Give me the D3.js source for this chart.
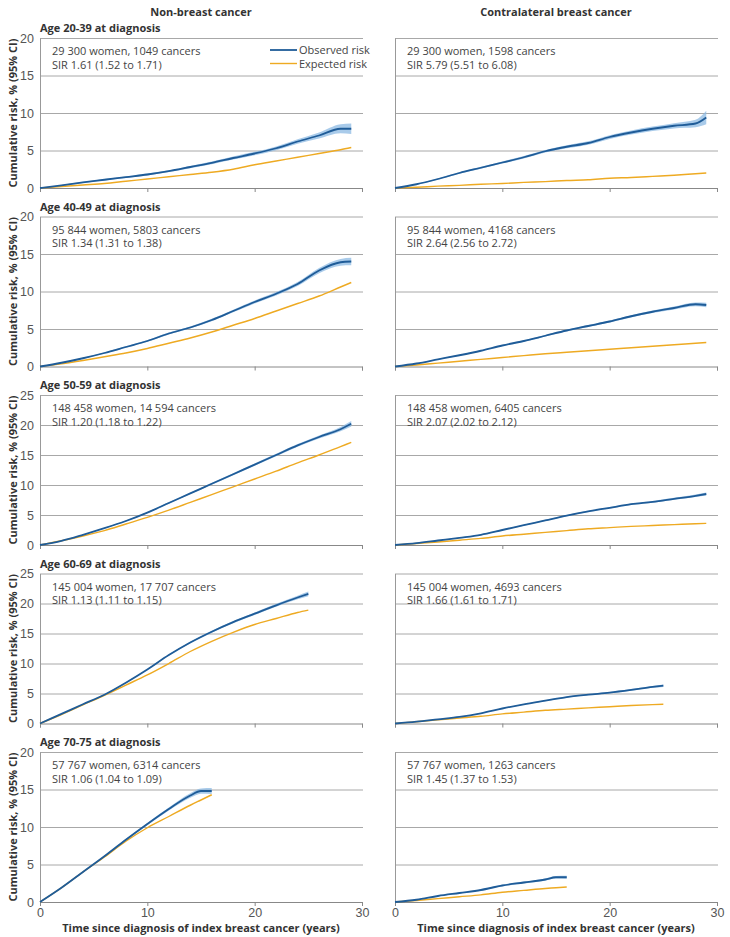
<!DOCTYPE html>
<html>
<head>
<meta charset="utf-8">
<script src="https://cdn.jsdelivr.net/npm/d3@7"></script>
<style>
  body { margin: 0; background: #fff; }
  svg { display: block; font-family: "Open Sans", "Noto Sans", sans-serif; }
  .tick text { fill: #555; font-size: 12px; }
  .grid line { stroke: #a8a8a8; }
</style>
</head>
<body>
<div id="chart"></div>
<script>
// time points (years) for each age group
const tLong = [0, 2, 4, 6, 8, 10, 12, 14, 16, 18, 20, 22, 24, 26, 28, 29];
const t6069 = [0, 2, 4, 6, 8, 10, 12, 14, 16, 18, 20, 22, 24, 25];
const t7075 = [0, 2, 4, 6, 8, 10, 12, 14, 15, 16];

// Age 20-39
const obsNB2039 = [0, 0.35, 0.75, 1.1, 1.45, 1.8, 2.25, 2.8, 3.35, 4.0, 4.6, 5.3, 6.2, 7.0, 7.9, 7.9];
const ciNB2039 = [0, 0.05, 0.07, 0.1, 0.1, 0.12, 0.13, 0.15, 0.17, 0.2, 0.22, 0.25, 0.3, 0.4, 0.6, 0.7];
const expNB2039 = [0, 0.2, 0.4, 0.6, 0.9, 1.2, 1.5, 1.8, 2.1, 2.5, 3.1, 3.6, 4.1, 4.6, 5.1, 5.4];
const obsCB2039 = [0, 0.5, 1.2, 2.0, 2.7, 3.4, 4.1, 4.9, 5.5, 6.0, 6.8, 7.4, 7.9, 8.3, 8.6, 9.4];
const ciCB2039 = [0, 0.05, 0.08, 0.1, 0.12, 0.14, 0.16, 0.18, 0.2, 0.22, 0.25, 0.28, 0.3, 0.35, 0.5, 0.9];
const expCB2039 = [0, 0.1, 0.25, 0.35, 0.5, 0.6, 0.75, 0.85, 1.0, 1.1, 1.3, 1.4, 1.55, 1.7, 1.9, 2.0];

// Age 40-49
const obsNB4049 = [0, 0.5, 1.1, 1.8, 2.6, 3.4, 4.4, 5.2, 6.2, 7.4, 8.6, 9.7, 11.0, 12.8, 13.9, 14.0];
const ciNB4049 = [0, 0.04, 0.06, 0.08, 0.1, 0.1, 0.12, 0.14, 0.16, 0.18, 0.2, 0.22, 0.28, 0.35, 0.45, 0.5];
const expNB4049 = [0, 0.35, 0.8, 1.3, 1.8, 2.4, 3.1, 3.8, 4.6, 5.5, 6.4, 7.4, 8.4, 9.4, 10.6, 11.2];
const obsCB4049 = [0, 0.4, 0.95, 1.5, 2.1, 2.8, 3.4, 4.1, 4.8, 5.4, 6.0, 6.7, 7.3, 7.8, 8.3, 8.2];
const ciCB4049 = [0, 0.03, 0.05, 0.06, 0.07, 0.08, 0.09, 0.1, 0.11, 0.12, 0.14, 0.15, 0.17, 0.2, 0.25, 0.3];
const expCB4049 = [0, 0.2, 0.45, 0.7, 0.95, 1.2, 1.45, 1.7, 1.9, 2.1, 2.3, 2.5, 2.7, 2.9, 3.1, 3.2];

// Age 50-59
const obsNB5059 = [0, 0.7, 1.7, 2.8, 4.0, 5.4, 7.0, 8.6, 10.2, 11.8, 13.4, 15.0, 16.6, 18.0, 19.3, 20.2];
const ciNB5059 = [0, 0.03, 0.05, 0.07, 0.08, 0.1, 0.11, 0.12, 0.14, 0.16, 0.18, 0.2, 0.22, 0.25, 0.35, 0.45];
const expNB5059 = [0, 0.7, 1.5, 2.4, 3.5, 4.6, 5.8, 7.1, 8.4, 9.7, 11.0, 12.3, 13.7, 15.0, 16.4, 17.1];
const obsCB5059 = [0, 0.3, 0.75, 1.2, 1.7, 2.5, 3.3, 4.1, 4.9, 5.6, 6.2, 6.8, 7.2, 7.7, 8.2, 8.5];
const ciCB5059 = [0, 0.02, 0.04, 0.05, 0.06, 0.07, 0.08, 0.09, 0.1, 0.11, 0.12, 0.13, 0.15, 0.17, 0.2, 0.25];
const expCB5059 = [0, 0.25, 0.5, 0.8, 1.1, 1.5, 1.8, 2.1, 2.4, 2.7, 2.9, 3.1, 3.25, 3.4, 3.55, 3.6];

// Age 60-69
const obsNB6069 = [0, 1.6, 3.2, 4.8, 6.8, 9.0, 11.4, 13.5, 15.3, 16.9, 18.3, 19.7, 21.0, 21.6];
const ciNB6069 = [0, 0.03, 0.05, 0.06, 0.08, 0.1, 0.12, 0.14, 0.16, 0.18, 0.2, 0.25, 0.3, 0.4];
const expNB6069 = [0, 1.5, 3.1, 4.7, 6.4, 8.1, 10.0, 12.0, 13.7, 15.2, 16.5, 17.5, 18.5, 18.9];
const obsCB6069 = [0, 0.3, 0.7, 1.1, 1.7, 2.5, 3.2, 3.8, 4.4, 4.8, 5.15, 5.6, 6.1, 6.3];
const ciCB6069 = [0, 0.02, 0.03, 0.04, 0.05, 0.06, 0.07, 0.08, 0.09, 0.1, 0.11, 0.13, 0.15, 0.2];
const expCB6069 = [0, 0.3, 0.6, 0.9, 1.2, 1.6, 1.9, 2.2, 2.4, 2.6, 2.8, 3.0, 3.15, 3.2];

// Age 70-75
const obsNB7075 = [0, 1.9, 4.0, 6.1, 8.3, 10.4, 12.4, 14.2, 14.8, 14.8];
const ciNB7075 = [0, 0.04, 0.07, 0.1, 0.12, 0.15, 0.2, 0.3, 0.35, 0.4];
const expNB7075 = [0, 1.9, 4.0, 6.0, 8.1, 9.9, 11.4, 12.9, 13.6, 14.3];
const obsCB7075 = [0, 0.3, 0.8, 1.2, 1.6, 2.2, 2.6, 3.0, 3.3, 3.3];
const ciCB7075 = [0, 0.03, 0.05, 0.06, 0.08, 0.1, 0.12, 0.15, 0.18, 0.2];
const expCB7075 = [0, 0.2, 0.45, 0.7, 0.95, 1.3, 1.55, 1.8, 1.9, 2.0];

const columnTitles = ["Non-breast cancer", "Contralateral breast cancer"];
const rowTitles = ["Age 20-39 at diagnosis", "Age 40-49 at diagnosis", "Age 50-59 at diagnosis",
                   "Age 60-69 at diagnosis", "Age 70-75 at diagnosis"];
const yMaxes = [20, 20, 25, 25, 20];
const xTicks = [0, 10, 20, 30];
const legendLabels = ["Observed risk", "Expected risk"];

const notes = [
    [["29 300 women, 1049 cancers", "SIR 1.61 (1.52 to 1.71)"], ["29 300 women, 1598 cancers", "SIR 5.79 (5.51 to 6.08)"]],
    [["95 844 women, 5803 cancers", "SIR 1.34 (1.31 to 1.38)"], ["95 844 women, 4168 cancers", "SIR 2.64 (2.56 to 2.72)"]],
    [["148 458 women, 14 594 cancers", "SIR 1.20 (1.18 to 1.22)"], ["148 458 women, 6405 cancers", "SIR 2.07 (2.02 to 2.12)"]],
    [["145 004 women, 17 707 cancers", "SIR 1.13 (1.11 to 1.15)"], ["145 004 women, 4693 cancers", "SIR 1.66 (1.61 to 1.71)"]],
    [["57 767 women, 6314 cancers", "SIR 1.06 (1.04 to 1.09)"], ["57 767 women, 1263 cancers", "SIR 1.45 (1.37 to 1.53)"]]
];

const series = [
    [{t: tLong, obs: obsNB2039, ci: ciNB2039, exp: expNB2039}, {t: tLong, obs: obsCB2039, ci: ciCB2039, exp: expCB2039}],
    [{t: tLong, obs: obsNB4049, ci: ciNB4049, exp: expNB4049}, {t: tLong, obs: obsCB4049, ci: ciCB4049, exp: expCB4049}],
    [{t: tLong, obs: obsNB5059, ci: ciNB5059, exp: expNB5059}, {t: tLong, obs: obsCB5059, ci: ciCB5059, exp: expCB5059}],
    [{t: t6069, obs: obsNB6069, ci: ciNB6069, exp: expNB6069}, {t: t6069, obs: obsCB6069, ci: ciCB6069, exp: expCB6069}],
    [{t: t7075, obs: obsNB7075, ci: ciNB7075, exp: expNB7075}, {t: t7075, obs: obsCB7075, ci: ciCB7075, exp: expCB7075}]
];

const W = 730, H = 937;
const colLeft = [40, 395];
const plotW = 322;
const rowTop = [38, 216.5, 395, 573.5, 752];
const plotH = 150;
const obsColor = "#1f5c98", bandColor = "#8cb9e3", expColor = "#eeaa22";

const svg = d3.select("#chart").append("svg")
    .attr("width", W)
    .attr("height", H);

columnTitles.forEach((c, j) => {
    svg.append("text")
        .attr("x", colLeft[j] + plotW / 2)
        .attr("y", 16)
        .attr("text-anchor", "middle")
        .style("font-size", "11px")
        .style("font-weight", "bold")
        .attr("fill", "#333")
        .text(c);
});

rowTitles.forEach((title, i) => {
    const top = rowTop[i];
    const y = d3.scaleLinear().domain([0, yMaxes[i]]).range([top + plotH, top]);
    const yTicks = d3.range(0, yMaxes[i] + 1, 5);

    svg.append("text")
        .attr("x", colLeft[0])
        .attr("y", top - 6)
        .style("font-size", "11px")
        .style("font-weight", "bold")
        .attr("fill", "#333")
        .text(title);

    svg.append("text")
        .attr("transform", `translate(17,${top + plotH / 2}) rotate(-90)`)
        .attr("text-anchor", "middle")
        .style("font-size", "11px")
        .style("font-weight", "bold")
        .attr("fill", "#333")
        .text("Cumulative risk, % (95% CI)");

    [0, 1].forEach(j => {
        const x = d3.scaleLinear().domain([0, 30]).range([colLeft[j], colLeft[j] + plotW]);
        const g = svg.append("g");
        const s = series[i][j];

        // horizontal grid
        g.append("g")
            .attr("class", "grid")
            .attr("transform", `translate(${colLeft[j]},0)`)
            .call(d3.axisLeft(y).tickValues(yTicks.slice(1)).tickSize(-plotW - 1).tickFormat(""))
            .call(a => a.select(".domain").remove());

        // y axis
        const yAxis = g.append("g")
            .attr("transform", `translate(${colLeft[j]},0)`)
            .call(d3.axisLeft(y).tickValues(yTicks).tickSize(0).tickPadding(6)
                .tickFormat(j === 0 ? d3.format("d") : ""));
        yAxis.select(".domain").attr("stroke", "#999");
        yAxis.selectAll(".tick text").style("font-size", "12.5px").attr("fill", "#555");

        // x axis
        const xAxis = g.append("g")
            .attr("transform", `translate(0,${top + plotH})`)
            .call(d3.axisBottom(x).tickValues(xTicks).tickSizeOuter(0).tickSize(4).tickPadding(2)
                .tickFormat(i === rowTitles.length - 1 ? d3.format("d") : ""));
        xAxis.select(".domain").attr("stroke", "#888");
        xAxis.selectAll(".tick line").attr("stroke", "#888");
        xAxis.selectAll(".tick text").style("font-size", "12.5px").attr("fill", "#555");

        const pts = s.t.map((t, k) => ({t, obs: s.obs[k], lo: s.obs[k] - s.ci[k], hi: s.obs[k] + s.ci[k], exp: s.exp[k]}));

        g.append("path")
            .datum(pts)
            .attr("fill", bandColor)
            .attr("opacity", 0.75)
            .attr("d", d3.area().curve(d3.curveMonotoneX)
                .x(d => x(d.t)).y0(d => y(Math.max(0, d.lo))).y1(d => y(d.hi)));

        g.append("path")
            .datum(pts)
            .attr("fill", "none")
            .attr("stroke", expColor)
            .attr("stroke-width", 1.4)
            .attr("d", d3.line().curve(d3.curveMonotoneX).x(d => x(d.t)).y(d => y(d.exp)));

        g.append("path")
            .datum(pts)
            .attr("fill", "none")
            .attr("stroke", obsColor)
            .attr("stroke-width", 1.8)
            .attr("d", d3.line().curve(d3.curveMonotoneX).x(d => x(d.t)).y(d => y(d.obs)));

        // annotation
        const note = g.append("text")
            .attr("x", colLeft[j] + 12)
            .attr("y", top + 17)
            .style("font-size", "11px")
            .attr("fill", "#444");
        notes[i][j].forEach((line, k) => {
            note.append("tspan").attr("x", colLeft[j] + 12).attr("dy", k === 0 ? 0 : 13.5).text(line);
        });

        if (i === rowTitles.length - 1) {
            svg.append("text")
                .attr("x", colLeft[j] + plotW / 2)
                .attr("y", top + plotH + 30)
                .attr("text-anchor", "middle")
                .style("font-size", "11px")
                .style("font-weight", "bold")
                .attr("fill", "#333")
                .text("Time since diagnosis of index breast cancer (years)");
        }
    });
});

// legend in first panel
const legend = svg.append("g").attr("transform", `translate(270,${rowTop[0] + 12})`);
[obsColor, expColor].forEach((c, k) => {
    legend.append("line")
        .attr("x1", 0).attr("x2", 27)
        .attr("y1", k * 13.5).attr("y2", k * 13.5)
        .attr("stroke", c)
        .attr("stroke-width", k === 0 ? 1.8 : 1.4);
    legend.append("text")
        .attr("x", 29)
        .attr("y", k * 13.5 + 4)
        .style("font-size", "11px")
        .attr("fill", "#444")
        .text(legendLabels[k]);
});
</script>
</body>
</html>
